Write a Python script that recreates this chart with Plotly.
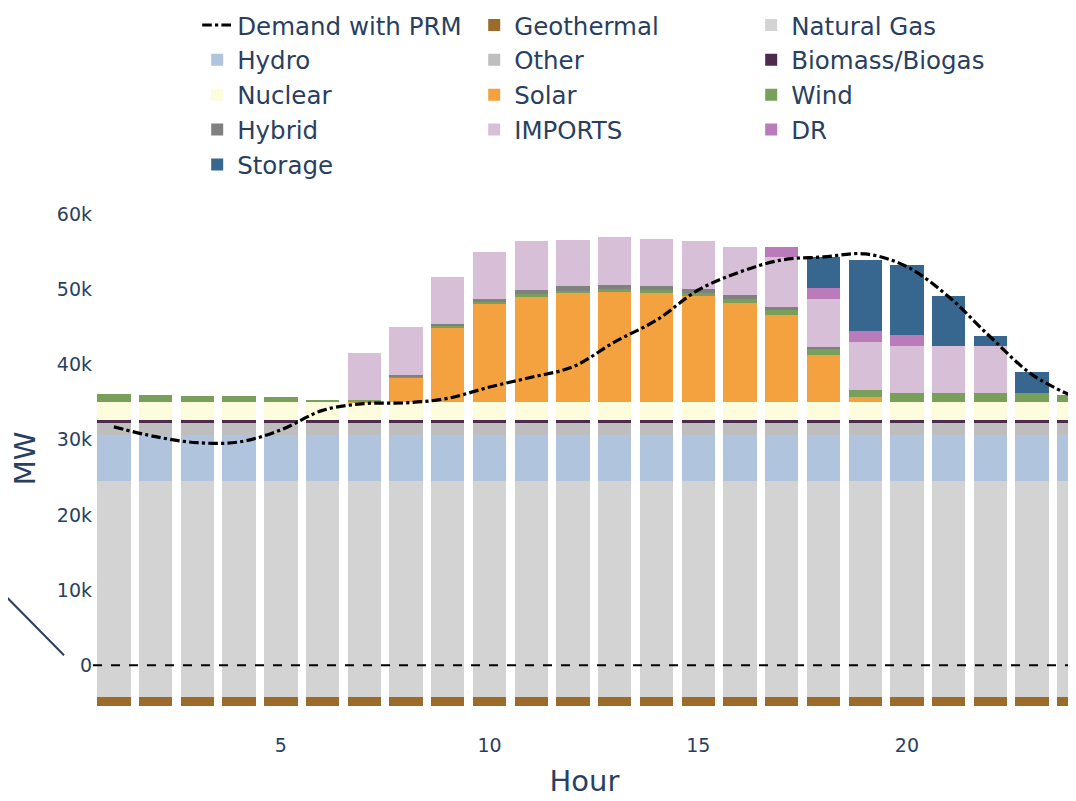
import plotly.graph_objects as go

hours = list(range(1, 25))

# MW values per hour, in thousands
offset = [-5.45] * 24  # stacking start below zero (hidden)
geothermal = [1.2] * 24
natural_gas = [28.72] * 24
hydro = [6.2] * 24
other = [1.5] * 24
biomass = [0.4] * 24
nuclear = [2.4] * 24
solar = [0, 0, 0, 0, 0, 0, 0.1, 3.3, 9.9, 13.1, 14.1, 14.55, 14.7, 14.6, 14.2, 13.2,
         11.6, 6.3, 0.7, 0, 0, 0, 0, 0]
wind = [1.04, 1.0, 0.9, 0.8, 0.7, 0.35, 0.2, 0.15, 0.2, 0.2, 0.25, 0.3, 0.35, 0.3, 0.4, 0.6,
        0.65, 0.9, 1.0, 1.3, 1.3, 1.3, 1.3, 1.0]
hybrid = [0, 0, 0, 0, 0, 0, 0, 0.15, 0.35, 0.5, 0.55, 0.55, 0.55, 0.6, 0.5, 0.45,
          0.45, 0.2, 0, 0, 0, 0, 0, 0]
imports = [0, 0, 0, 0, 0, 0, 6.2, 6.4, 6.25, 6.2, 6.5, 6.15, 6.35, 6.2, 6.4, 6.35,
           6.6, 6.4, 6.3, 6.2, 6.25, 6.25, 0, 0]
dr = [0, 0, 0, 0, 0, 0, 0, 0, 0, 0, 0, 0, 0, 0, 0, 0,
      1.3, 1.4, 1.5, 1.5, 0, 0, 0, 0]
storage = [0, 0, 0, 0, 0, 0, 0, 0, 0, 0, 0, 0, 0, 0, 0, 0,
           0, 4.1, 9.4, 9.3, 6.65, 1.25, 2.7, 0]
demand_prm = [31.7, 30.4, 29.6, 29.7, 31.3, 33.9, 34.8, 34.9, 35.5, 37.0, 38.3, 39.7,
              43.0, 45.9, 49.9, 52.3, 53.9, 54.3, 54.7, 53.0, 49.0, 43.65, 38.65, 35.7]

series = [
    ("Geothermal", geothermal, "#9c6b2a"),
    ("Natural Gas", natural_gas, "#d3d3d3"),
    ("Hydro", hydro, "#b0c4de"),
    ("Other", other, "#bebebe"),
    ("Biomass/Biogas", biomass, "#4e2a4e"),
    ("Nuclear", nuclear, "#fdfcdc"),
    ("Solar", solar, "#f4a13f"),
    ("Wind", wind, "#78a05a"),
    ("Hybrid", hybrid, "#808080"),
    ("IMPORTS", imports, "#d8bfd8"),
    ("DR", dr, "#b97bb9"),
    ("Storage", storage, "#37678f"),
]


def k(v):
    return [x * 1000 for x in v]


bars = [go.Bar(
    x=hours, y=k(offset), name="offset", showlegend=False, hoverinfo="skip",
    marker=dict(color="rgba(0,0,0,0)", line=dict(width=0)),
)]
for name, vals, color in series:
    bars.append(go.Bar(
        x=hours, y=k(vals), name=name,
        marker=dict(color=color, line=dict(width=0)),
    ))

demand = go.Scatter(
    x=hours, y=k(demand_prm), name="Demand with PRM", mode="lines",
    line=dict(color="black", width=3.2, dash="dashdot", shape="spline"),
    legendrank=1,
)

fig = go.Figure(data=bars + [demand])

font_family = "DejaVu Sans, Verdana, sans-serif"
text_color = "#2a3f5f"

fig.update_layout(
    width=1068, height=793,
    barmode="stack", bargap=0.2,
    plot_bgcolor="white", paper_bgcolor="white",
    font=dict(family=font_family, color=text_color),
    margin=dict(l=85, r=0, t=191, b=83, autoexpand=False),
    legend=dict(
        orientation="h", x=0.106, xanchor="left", y=1.022, yanchor="bottom",
        font=dict(size=24.5, family=font_family, color=text_color),
        entrywidth=232, traceorder="normal",
    ),
    xaxis=dict(
        range=[0.5, 24.05], tickmode="array", tickvals=[5, 10, 15, 20],
        showgrid=False, zeroline=False, showline=False, automargin=False,
        tickfont=dict(size=19), ticklabelstandoff=14,
        title=dict(text="Hour", font=dict(size=29)),
    ),
    yaxis=dict(
        range=[-7000, 62000], tickvals=[0, 10000, 20000, 30000, 40000, 50000, 60000],
        ticktext=["0", "10k", "20k", "30k", "40k", "50k", "60k"],
        showgrid=False, zeroline=False, showline=False, automargin=False,
        tickfont=dict(size=19),
        title=dict(text="MW", font=dict(size=29)),
    ),
    shapes=[
        dict(type="line", xref="paper", yref="y", x0=0, x1=1, y0=0, y1=0,
             line=dict(color="black", width=2, dash="dash"), layer="above"),
        dict(type="line", xref="paper", yref="paper", x0=-0.095, x1=-0.0295,
             y0=0.2466, y1=0.121, line=dict(color="#2a3f5f", width=2)),
    ],
)

fig.write_html("out.html")
